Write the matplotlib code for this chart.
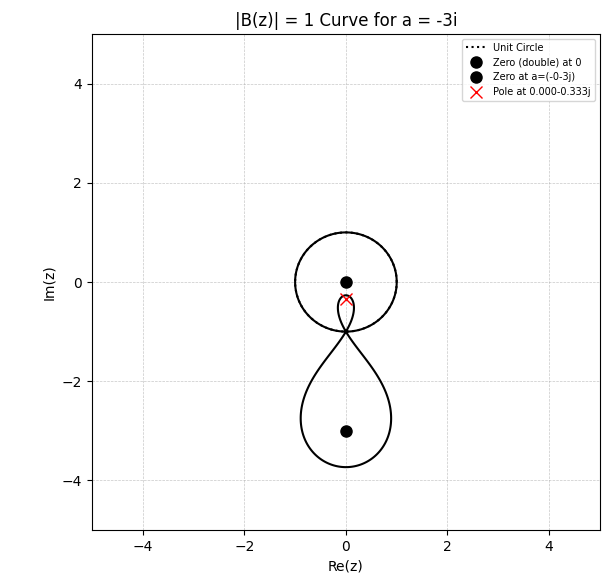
import numpy as np
import matplotlib
matplotlib.use("Agg")
import matplotlib.pyplot as plt

# Data
a = -3j                     # parameter a
zero_double = 0 + 0j        # double zero
pole = 1 / np.conj(a)       # pole at 1/conj(a)
xlim = (-5, 5)
ylim = (-5, 5)
ticks = [-4, -2, 0, 2, 4]

fig = plt.figure(figsize=(6.09, 5.82), dpi=100)
ax = fig.add_axes([0.151, 0.0893, 0.834, 0.8523])

# |B(z)| = 1 curve, B(z) = z^2 (z - a) / (1 - conj(a) z)
x = np.linspace(-5, 5, 1600)
y = np.linspace(-5, 5, 1600)
X, Y = np.meshgrid(x, y)
Z = X + 1j * Y
B = Z**2 * (Z - a) / (1 - np.conj(a) * Z)
ax.contour(X, Y, np.abs(B), levels=[1], colors='black', linewidths=1.5)

# Unit circle
t = np.linspace(0, 2 * np.pi, 400)
ax.plot(np.cos(t), np.sin(t), 'k:', linewidth=1.5, label='Unit Circle')

ax.plot(zero_double.real, zero_double.imag, 'ko', markersize=8, label='Zero (double) at 0')
ax.plot(a.real, a.imag, 'ko', markersize=8, label=f'Zero at a={a}')
ax.plot(pole.real, pole.imag, 'rx', markersize=8, label=f'Pole at {pole.real:.3f}{pole.imag:.3f}j')

ax.set_xlim(*xlim)
ax.set_ylim(*ylim)
ax.set_xticks(ticks)
ax.set_yticks(ticks)
ax.grid(True, linestyle='--', linewidth=0.5, alpha=0.7)
ax.set_xlabel('Re(z)')
ax.set_ylabel('Im(z)')
ax.set_title('|B(z)| = 1 Curve for a = -3i')
ax.legend(loc='upper right', fontsize=7)

fig.savefig('out.png', dpi=100)
